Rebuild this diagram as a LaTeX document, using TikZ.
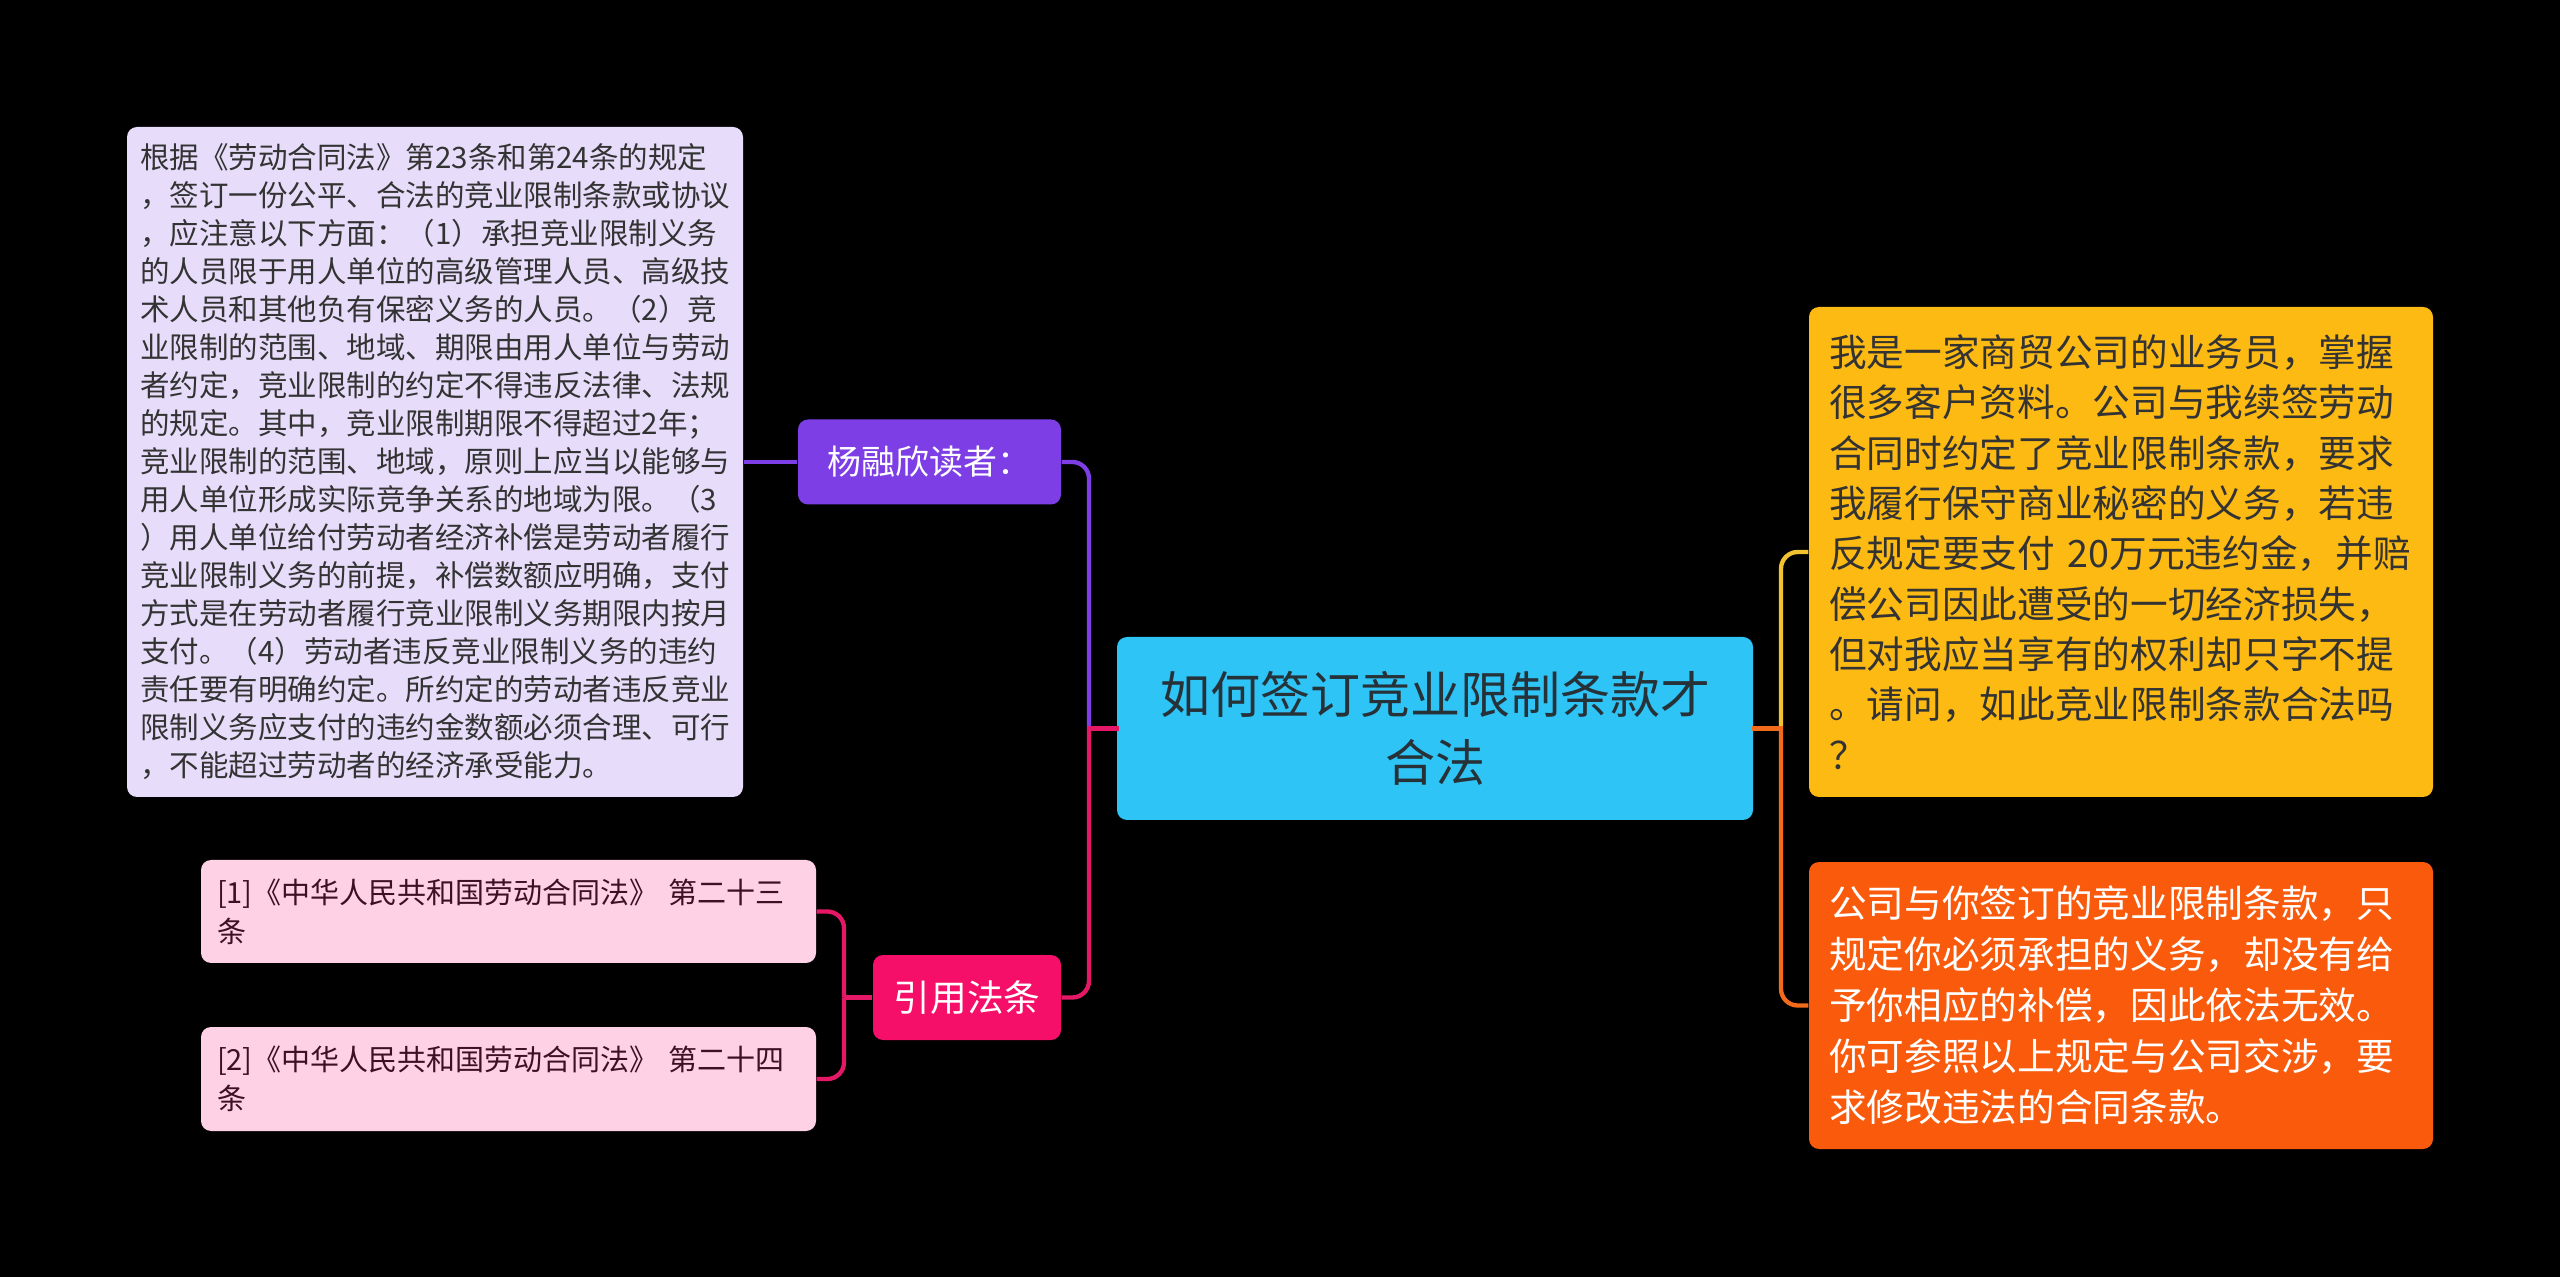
\documentclass[tikz,border=0pt]{standalone}
\usepackage{fontspec}
\setmainfont{Noto Sans CJK SC}
\definecolor{cBg}{HTML}{000000}
\definecolor{cCentral}{HTML}{2EC4F6}
\definecolor{cCentralTxt}{HTML}{263238}
\definecolor{cPurple}{HTML}{7D3EE5}
\definecolor{cLav}{HTML}{E7DDFA}
\definecolor{cYellow}{HTML}{FDBA13}
\definecolor{cYellowLine}{HTML}{F2C230}
\definecolor{cOrange}{HTML}{FA5A0C}
\definecolor{cOrangeLine}{HTML}{F26A1B}
\definecolor{cPink}{HTML}{F50F68}
\definecolor{cPinkLine}{HTML}{E41866}
\definecolor{cRef}{HTML}{FFD1E4}
\definecolor{cDark}{HTML}{333333}
\definecolor{cRefTxt}{HTML}{3E1024}
\begin{document}
\begin{tikzpicture}[x=0.3pt,y=-0.3pt,
  box/.style={rounded corners=3pt, inner ysep=2pt, anchor=center},
  conn/.style={line width=1.3pt},
  rconn/.style={line width=1.3pt, rounded corners=5pt}]
\fill[cBg] (0,0) rectangle (2560,1277);
\useasboundingbox (0,0) rectangle (2560,1277);

% central
\node[box, fill=cCentral, text=cCentralTxt, minimum width=190.8pt, minimum height=54.9pt,
  align=center, font=\fontsize{15}{20.6}\selectfont] (central) at (1435,728.5)
  {如何签订竞业限制条款才\\合法};

% left branch 1
\node[box, fill=cPurple, text=white, minimum width=78.9pt, minimum height=25.5pt,
  align=center, font=\fontsize{10.2}{12}\selectfont] (reader) at (929.5,462) {杨融欣读者：};
\node[box, fill=cLav, text=cDark, inner xsep=4pt, text width=176.8pt, minimum height=201pt,
  align=left, font=\fontsize{8.85}{11.4}\selectfont] (lav) at (435,462)
  {根据《劳动合同法》第23条和第24条的规定\\
，签订一份公平、合法的竞业限制条款或协议\\
，应注意以下方面：（1）承担竞业限制义务\\
的人员限于用人单位的高级管理人员、高级技\\
术人员和其他负有保密义务的人员。（2）竞\\
业限制的范围、地域、期限由用人单位与劳动\\
者约定，竞业限制的约定不得违反法律、法规\\
的规定。其中，竞业限制期限不得超过2年；\\
竞业限制的范围、地域，原则上应当以能够与\\
用人单位形成实际竞争关系的地域为限。（3\\
）用人单位给付劳动者经济补偿是劳动者履行\\
竞业限制义务的前提，补偿数额应明确，支付\\
方式是在劳动者履行竞业限制义务期限内按月\\
支付。（4）劳动者违反竞业限制义务的违约\\
责任要有明确约定。所约定的劳动者违反竞业\\
限制义务应支付的违约金数额必须合理、可行\\
，不能超过劳动者的经济承受能力。};

% left branch 2
\node[box, fill=cPink, text=white, minimum width=56.4pt, minimum height=25.5pt,
  align=center, font=\fontsize{11}{13}\selectfont] (cite) at (967,997.5) {引用法条};
\node[box, fill=cRef, text=cRefTxt, inner xsep=4.8pt, text width=174.9pt, minimum height=30.9pt,
  align=left, font=\fontsize{8.7}{11.7}\selectfont] (ref1) at (508.5,911.5)
  {[1]《中华人民共和国劳动合同法》 第二十三\\条};
\node[box, fill=cRef, text=cRefTxt, inner xsep=4.8pt, text width=174.9pt, minimum height=31.2pt,
  align=left, font=\fontsize{8.7}{11.7}\selectfont] (ref2) at (508.5,1079)
  {[2]《中华人民共和国劳动合同法》 第二十四\\条};

% right branch
\node[box, fill=cYellow, text=cDark, inner xsep=6pt, text width=175.2pt, minimum height=147pt,
  align=left, font=\fontsize{11.3}{15.1}\selectfont] (question) at (2121,552)
  {我是一家商贸公司的业务员，掌握\\
很多客户资料。公司与我续签劳动\\
合同时约定了竞业限制条款，要求\\
我履行保守商业秘密的义务，若违\\
反规定要支付 20万元违约金，并赔\\
偿公司因此遭受的一切经济损失，\\
但对我应当享有的权利却只字不提\\
。请问，如此竞业限制条款合法吗\\
？};
\node[box, fill=cOrange, text=white, inner xsep=6pt, text width=175.2pt, minimum height=86.1pt,
  align=left, font=\fontsize{11.3}{15.3}\selectfont] (answer) at (2121,1005.5)
  {公司与你签订的竞业限制条款，只\\
规定你必须承担的义务，却没有给\\
予你相应的补偿，因此依法无效。\\
你可参照以上规定与公司交涉，要\\
求修改违法的合同条款。};

% junctions
\coordinate (jl) at (1089,728.5);
\coordinate (jc) at (844,997.5);
\coordinate (jr) at (1781,728.5);

% left connectors
\draw[rconn, cPurple] (jl) |- (reader.east);
\draw[conn, cPurple] (reader.west) -- (lav.east);
\draw[rconn, cPinkLine] (jl) |- (cite.east);
\draw[conn, cPinkLine, line cap=rect] (central.west) -- (jl);
\draw[rconn, cPinkLine] (jc) |- (ref1.east);
\draw[rconn, cPinkLine] (jc) |- (ref2.east);
\draw[conn, cPinkLine] (cite.west) -- (jc);

% right connectors
\draw[rconn, cYellowLine] (jr) |- (question.west);
\draw[rconn, cOrangeLine] (jr) |- (answer.west);
\draw[conn, cOrangeLine, line cap=rect] (central.east) -- (jr);
\end{tikzpicture}
\end{document}
